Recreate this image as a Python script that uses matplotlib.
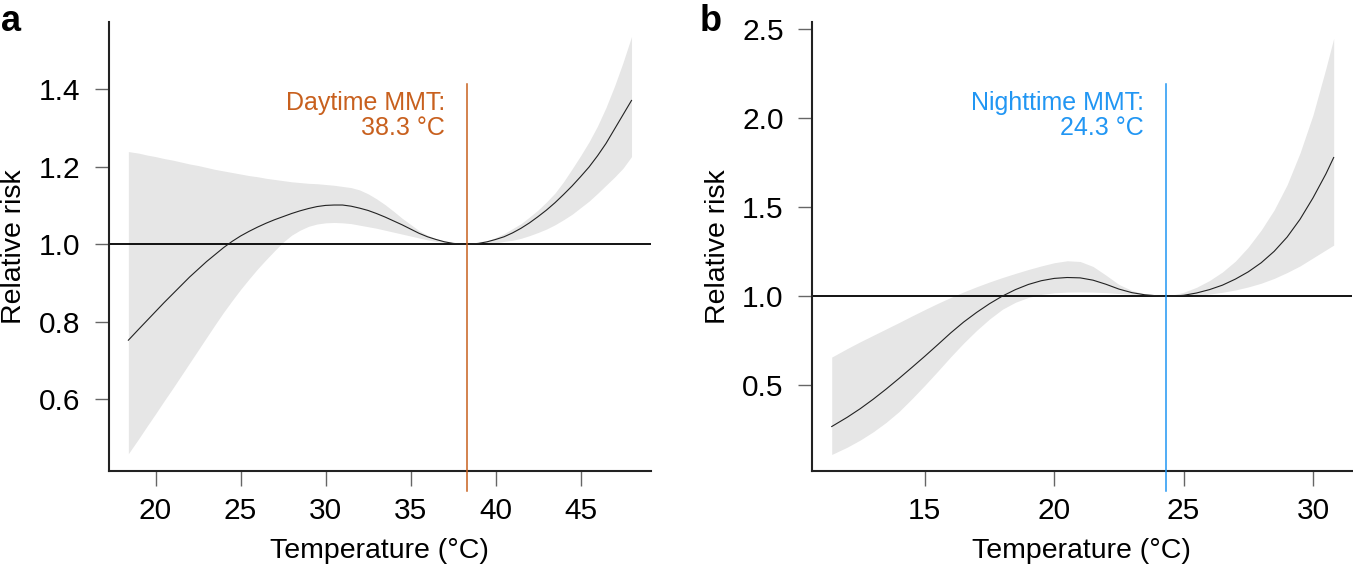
import matplotlib
matplotlib.use("Agg")
import matplotlib.pyplot as plt

plt.rcParams['font.family'] = ['Liberation Sans', 'DejaVu Sans']

# ---------------- data: panel a (daytime) ----------------
temp_a = [18.4, 19.0, 19.5, 20.0, 20.5, 21.0, 21.5, 22.0, 22.5, 23.0, 23.5, 24.0, 24.5,
          25.0, 25.5, 26.0, 26.5, 27.0, 27.5, 28.0, 28.5, 29.0, 29.5, 30.0, 30.5, 31.0,
          31.5, 32.0, 32.5, 33.0, 33.5, 34.0, 34.5, 35.0, 35.5, 36.0, 36.5, 37.0, 37.5,
          38.0, 38.3, 38.5, 39.0, 39.5, 40.0, 40.5, 41.0, 41.5, 42.0, 42.5, 43.0, 43.5,
          44.0, 44.5, 45.0, 45.5, 46.0, 46.5, 47.0, 47.5, 48.0]
rr_a = [0.752, 0.780, 0.803, 0.826, 0.849, 0.871, 0.893, 0.915, 0.935, 0.955, 0.973, 0.991, 1.007,
        1.021, 1.033, 1.044, 1.054, 1.063, 1.071, 1.079, 1.086, 1.092, 1.097, 1.100, 1.101, 1.101,
        1.098, 1.093, 1.087, 1.079, 1.070, 1.060, 1.050, 1.039, 1.028, 1.019, 1.012, 1.006, 1.002,
        1.000, 1.000, 1.000, 1.002, 1.006, 1.012, 1.019, 1.029, 1.041, 1.055, 1.071, 1.088, 1.107,
        1.128, 1.150, 1.174, 1.199, 1.228, 1.260, 1.297, 1.334, 1.371]
upper_a = [1.239, 1.235, 1.230, 1.226, 1.221, 1.217, 1.212, 1.207, 1.203, 1.198, 1.193, 1.189, 1.185,
           1.181, 1.177, 1.174, 1.170, 1.167, 1.164, 1.161, 1.159, 1.157, 1.156, 1.154, 1.152, 1.149,
           1.146, 1.140, 1.130, 1.117, 1.102, 1.085, 1.067, 1.051, 1.035, 1.023, 1.014, 1.008, 1.004,
           1.001, 1.000, 1.001, 1.003, 1.008, 1.017, 1.027, 1.040, 1.053, 1.070, 1.088, 1.109, 1.132,
           1.161, 1.194, 1.228, 1.264, 1.305, 1.353, 1.408, 1.469, 1.536]
lower_a = [0.459, 0.497, 0.530, 0.562, 0.595, 0.627, 0.660, 0.693, 0.726, 0.759, 0.792, 0.824, 0.854,
           0.883, 0.910, 0.936, 0.960, 0.983, 1.005, 1.023, 1.036, 1.046, 1.052, 1.055, 1.056, 1.055,
           1.053, 1.049, 1.045, 1.041, 1.036, 1.031, 1.026, 1.021, 1.016, 1.011, 1.007, 1.004, 1.002,
           1.000, 1.000, 1.000, 1.000, 1.001, 1.003, 1.007, 1.010, 1.015, 1.022, 1.030, 1.039, 1.050,
           1.063, 1.077, 1.094, 1.111, 1.131, 1.152, 1.173, 1.196, 1.226]
mmt_a = 38.3
xticks_a = [20, 25, 30, 35, 40, 45]
yticks_a = [0.6, 0.8, 1.0, 1.2, 1.4]

# ---------------- data: panel b (nighttime) ----------------
temp_b = [11.4, 12.0, 12.5, 13.0, 13.5, 14.0, 14.5, 15.0, 15.5, 16.0, 16.5, 17.0, 17.5,
          18.0, 18.5, 19.0, 19.5, 20.0, 20.5, 21.0, 21.5, 22.0, 22.5, 23.0, 23.5, 24.0,
          24.3, 24.5, 25.0, 25.5, 26.0, 26.5, 27.0, 27.5, 28.0, 28.5, 29.0, 29.5, 30.0,
          30.5, 30.8]
rr_b = [0.268, 0.320, 0.368, 0.421, 0.478, 0.538, 0.600, 0.663, 0.728, 0.794, 0.855, 0.909, 0.958,
        1.001, 1.037, 1.066, 1.087, 1.100, 1.105, 1.103, 1.090, 1.067, 1.040, 1.020, 1.008, 1.002,
        1.000, 1.000, 1.005, 1.018, 1.037, 1.062, 1.096, 1.137, 1.188, 1.252, 1.332, 1.432, 1.552,
        1.687, 1.779]
upper_b = [0.658, 0.706, 0.744, 0.780, 0.816, 0.852, 0.889, 0.925, 0.960, 0.993, 1.024, 1.053, 1.080,
           1.105, 1.128, 1.150, 1.170, 1.188, 1.199, 1.195, 1.167, 1.118, 1.066, 1.032, 1.013, 1.004,
           1.000, 1.004, 1.022, 1.050, 1.088, 1.136, 1.197, 1.276, 1.372, 1.485, 1.626, 1.805, 2.018,
           2.280, 2.448]
lower_b = [0.111, 0.152, 0.192, 0.238, 0.291, 0.352, 0.424, 0.500, 0.579, 0.660, 0.737, 0.808, 0.872,
           0.927, 0.966, 0.993, 1.010, 1.019, 1.023, 1.024, 1.023, 1.020, 1.015, 1.010, 1.006, 1.002,
           1.000, 1.000, 1.002, 1.005, 1.012, 1.022, 1.035, 1.052, 1.073, 1.100, 1.133, 1.170, 1.215,
           1.260, 1.287]
mmt_b = 24.3
xticks_b = [15, 20, 25, 30]
yticks_b = [0.5, 1.0, 1.5, 2.0, 2.5]

ORANGE = "#C8601E"
BLUE = "#2196F3"
BAND = "#E6E6E6"

fig = plt.figure(figsize=(13.53, 5.69), dpi=100)
ax_a = fig.add_axes([0.0803, 0.172, 0.4009, 0.789])
ax_b = fig.add_axes([0.600, 0.172, 0.3993, 0.789])


def draw(ax, t, rr, lo, hi, mmt, xt, yt, xlim, ylim, color, line1, line2):
    ax.fill_between(t, lo, hi, color=BAND, lw=0, zorder=1)
    ax.plot(t, rr, color="#222222", lw=0.8, zorder=3)
    ax.axhline(1.0, color="black", lw=1.3, zorder=2)
    ax.axvline(mmt, ymin=-0.045, ymax=0.862, color=color, lw=1.1, clip_on=False, zorder=4)
    ax.set_xlim(*xlim)
    ax.set_ylim(*ylim)
    ax.set_xticks(xt)
    ax.set_xticklabels([str(v) for v in xt])
    ax.set_yticks(yt)
    ax.set_yticklabels([f"{v:.1f}" for v in yt])
    for s in ("top", "right"):
        ax.spines[s].set_visible(False)
    for s in ("left", "bottom"):
        ax.spines[s].set_linewidth(1.5)
        ax.spines[s].set_color("#222222")
    ax.tick_params(axis="x", direction="out", length=10.8, width=1, color="#666666",
                   labelsize=21.5, pad=8)
    ax.tick_params(axis="y", direction="out", length=10.2, width=1, color="#666666",
                   labelsize=21.5, pad=10)
    ax.set_xlabel("Temperature (°C)", fontsize=20.5)
    ax.set_ylabel("Relative risk", fontsize=20.5)
    ax.xaxis.set_label_coords(0.5, -0.15)
    ax.yaxis.set_label_coords(-0.15, 0.5)
    ax.annotate(line1, xy=(mmt, 0.804), xycoords=("data", "axes fraction"),
                xytext=(-15.5, 0), textcoords="offset points", ha="right", va="baseline",
                color=color, fontsize=18)
    ax.annotate(line2, xy=(mmt, 0.748), xycoords=("data", "axes fraction"),
                xytext=(-15.5, 0), textcoords="offset points", ha="right", va="baseline",
                color=color, fontsize=18)


draw(ax_a, temp_a, rr_a, lower_a, upper_a, mmt_a, xticks_a, yticks_a,
     (17.24, 49.15), (0.414, 1.573), ORANGE, "Daytime MMT:", "38.3 °C")
draw(ax_b, temp_b, rr_b, lower_b, upper_b, mmt_b, xticks_b, yticks_b,
     (10.63, 31.51), (0.0175, 2.539), BLUE, "Nighttime MMT:", "24.3 °C")

fig.text(0.001, 0.946, "a", fontsize=26, fontweight="bold", ha="left", va="baseline")
fig.text(0.517, 0.946, "b", fontsize=26, fontweight="bold", ha="left", va="baseline")

fig.savefig("out.png", dpi=100)
